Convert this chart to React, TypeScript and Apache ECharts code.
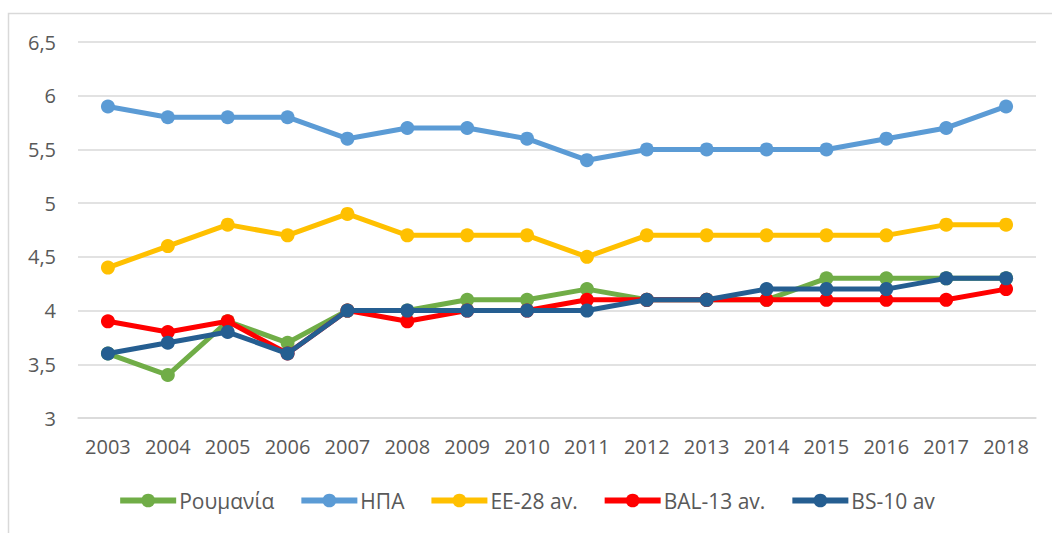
import React, { useEffect, useRef } from "react";
import * as echarts from "echarts";

const years = ["2003","2004","2005","2006","2007","2008","2009","2010","2011","2012","2013","2014","2015","2016","2017","2018"];
const romania = [3.6, 3.4, 3.9, 3.7, 4.0, 4.0, 4.1, 4.1, 4.2, 4.1, 4.1, 4.1, 4.3, 4.3, 4.3, 4.3];
const usa = [5.9, 5.8, 5.8, 5.8, 5.6, 5.7, 5.7, 5.6, 5.4, 5.5, 5.5, 5.5, 5.5, 5.6, 5.7, 5.9];
const eu28 = [4.4, 4.6, 4.8, 4.7, 4.9, 4.7, 4.7, 4.7, 4.5, 4.7, 4.7, 4.7, 4.7, 4.7, 4.8, 4.8];
const bal13 = [3.9, 3.8, 3.9, 3.6, 4.0, 3.9, 4.0, 4.0, 4.1, 4.1, 4.1, 4.1, 4.1, 4.1, 4.1, 4.2];
const bs10 = [3.6, 3.7, 3.8, 3.6, 4.0, 4.0, 4.0, 4.0, 4.0, 4.1, 4.1, 4.2, 4.2, 4.2, 4.3, 4.3];

const seriesNames = ["Ρουμανία", "ΗΠΑ", "ΕΕ-28 av.", "BAL-13 av.", "BS-10 av"];
const seriesData = [romania, usa, eu28, bal13, bs10];
const seriesColors = ["#70ad47", "#5b9bd5", "#ffc000", "#ff0000", "#255e91"];

const FONT = "'Open Sans', sans-serif";

export default function App() {
  const ref = useRef<HTMLDivElement>(null);
  useEffect(() => {
    if (!ref.current) return;
    const chart = echarts.init(ref.current, null, { renderer: "svg" });
    chart.setOption({
      animation: false,
      backgroundColor: "#ffffff",
      graphic: [
        {
          type: "rect",
          shape: { x: 8.5, y: 13.5, width: 1200, height: 700 },
          style: { fill: "none", stroke: "#d9d9d9", lineWidth: 1.5 },
          silent: true,
          z: -1,
        },
      ],
      grid: { left: 78, right: 16, top: 42, bottom: 115, containLabel: false },
      legend: {
        top: 485,
        left: "center",
        itemWidth: 56,
        itemHeight: 17,
        itemGap: 24,
        lineStyle: { width: 6 },
        textStyle: { fontFamily: FONT, fontSize: 21, color: "#595959", padding: [0, 0, 0, -2] },
        data: seriesNames,
      },
      xAxis: {
        type: "category",
        data: years,
        boundaryGap: true,
        axisLine: { show: true, lineStyle: { color: "#d9d9d9", width: 1.5 } },
        axisTick: { show: false },
        axisLabel: { fontFamily: FONT, fontSize: 20, color: "#595959", margin: 18 },
      },
      yAxis: {
        type: "value",
        min: 3,
        max: 6.5,
        interval: 0.5,
        axisLine: { show: false },
        axisTick: { show: false },
        splitLine: { lineStyle: { color: "#d9d9d9", width: 1.5 } },
        axisLabel: {
          fontFamily: FONT,
          fontSize: 20,
          color: "#595959",
          margin: 22,
          formatter: (v: number) => String(v).replace(".", ","),
        },
      },
      series: seriesNames.map((name, i) => ({
        name,
        type: "line",
        data: seriesData[i],
        symbol: "circle",
        symbolSize: 14,
        lineStyle: { width: 5, color: seriesColors[i] },
        itemStyle: { color: seriesColors[i] },
        z: 2 + i,
      })),
    });
    return () => chart.dispose();
  }, []);
  return (
    <div
      ref={ref}
      style={{ position: "fixed", left: 0, top: 0, width: 1052, height: 533 }}
    />
  );
}
